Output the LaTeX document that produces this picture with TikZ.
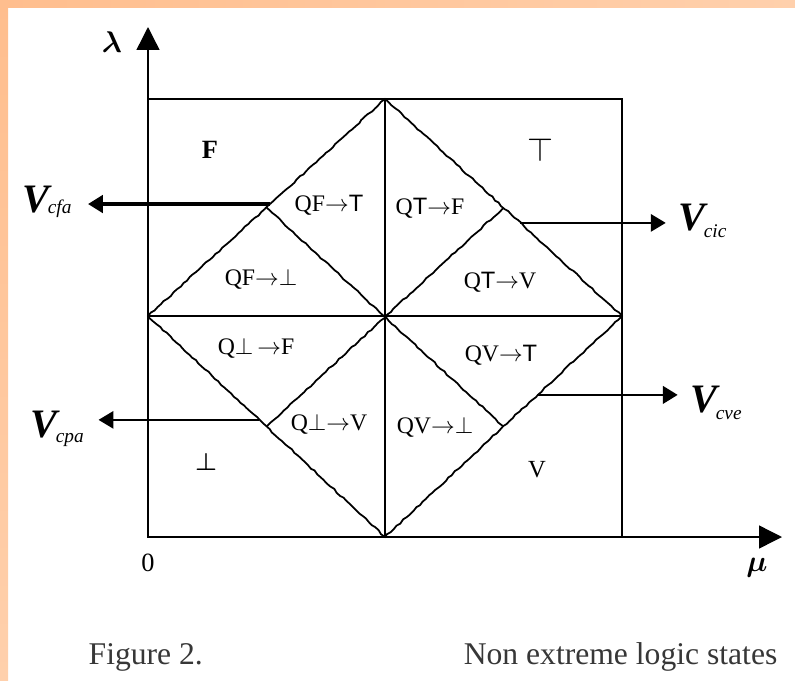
\RequirePackage{fix-cm}
\documentclass[tikz,border=0pt]{standalone}
\usepackage{fontspec}
\usepackage{amsmath}
\usepackage{tikz}
\setmainfont{Liberation Serif}
\setsansfont{Liberation Sans}
\usetikzlibrary{arrows.meta,calc,decorations.pathmorphing}

\definecolor{peach}{RGB}{255,190,142}
\definecolor{peachmid}{RGB}{255,232,216}
\definecolor{peachend}{RGB}{255,208,172}
\definecolor{captiongray}{RGB}{55,55,55}

\newcommand{\Vlab}[2]{{\fontsize{23}{23}\selectfont\bfseries\itshape V}\kern-1pt\raisebox{#2}{\fontsize{11}{11}\selectfont\itshape #1}}

\begin{document}
\begin{tikzpicture}[
    x=0.02cm,
    y=-0.02cm,
    line width=0.8pt,
    >={Triangle[length=8.5pt,width=10pt]},
    axisline/.style={-{Triangle[length=13pt,width=13pt]}},
    jagged/.style={line width=1pt, decorate, decoration={random steps, segment length=2.5pt, amplitude=0.4pt}},
    region/.style={font=\fontsize{13.5}{13.5}\selectfont, inner sep=0pt},
    vlabel/.style={anchor=base west, inner sep=0pt},
    caption/.style={font=\fontsize{18}{18}\selectfont, text=captiongray, inner sep=0pt}
]
    \pgfmathsetseed{7}
    \useasboundingbox (0,0) rectangle (795,680);

    % Frame - peach strips top and left
    \shade[left color=peach, middle color=peachmid, right color=peachend] (0,0) rectangle (795,7);
    \shade[top color=peach, middle color=peachmid, bottom color=peachend] (0,0) rectangle (8,680);

    % Diamond corners and axes
    \coordinate (dtop) at (385,99);
    \coordinate (dright) at (622,316);
    \coordinate (dbottom) at (385,537);
    \coordinate (dleft) at (148,316);
    \coordinate (centre) at (385,316);
    \coordinate (origin) at (148,537);
    \coordinate (lamtip) at (148,27);
    \coordinate (mutip) at (782,537);

    \draw (dleft |- dtop) rectangle (dright |- dbottom);
    \draw[axisline] (origin) -- (lamtip);
    \draw[axisline] (origin) -- (mutip);
    \draw (dtop) -- (dbottom);
    \draw (dleft) -- (dright);

    % Jagged diamond and inner diagonals
    \draw[jagged] (dtop) -- (dright) -- (dbottom) -- (dleft) -- cycle;
    \draw[jagged] ($(dleft)!0.5!(dtop)$) -- ($(dright)!0.5!(dbottom)$);
    \draw[jagged] ($(dtop)!0.5!(dright)$) -- ($(dbottom)!0.5!(dleft)$);

    % Axis labels
    \node[font=\fontsize{17}{17}\selectfont] (lam) at (112,42) {$\boldsymbol{\lambda}$};
    \node[font=\fontsize{17}{17}\selectfont] (mu) at (757,568) {$\boldsymbol{\mu}$};
    \node[font=\fontsize{15}{15}\selectfont] (zero) at (148,563) {0};

    % Extreme states
    \node[region, font=\fontsize{15}{15}\selectfont\bfseries] (F) at (210,150) {F};
    \node[region, font=\fontsize{19}{19}\selectfont] (Tp) at (540,150) {$\top$};
    \node[region, font=\fontsize{14}{14}\selectfont] (Bt) at (206,462) {$\boldsymbol{\bot}$};
    \node[region, font=\fontsize{14}{14}\selectfont] (Vs) at (537,470) {V};

    % Non extreme states
    \node[region] (qft) at (329,205) {QF${\rightarrow}$\textsf{T}};
    \node[region] (qtf) at (430,208) {Q\textsf{T}${\rightarrow}$F};
    \node[region] (qfb) at (261,279) {QF${\rightarrow}{\bot}$};
    \node[region] (qtv) at (500,282) {Q\textsf{T}${\rightarrow}$V};
    \node[region] (qbf) at (256,348) {Q${\bot}\,{\rightarrow}$F};
    \node[region] (qvt) at (501,355) {QV${\rightarrow}$\textsf{T}};
    \node[region] (qbv) at (329,424) {Q${\bot}{\rightarrow}$V};
    \node[region] (qvb) at (435,427) {QV${\rightarrow}{\bot}$};

    % Control values
    \node[vlabel] (Vcfa) at (22,212) {\Vlab{cfa}{-1pt}};
    \node[vlabel] (Vcic) at (678,230) {\Vlab{cic}{-4.5pt}};
    \node[vlabel] (Vcpa) at (30,437) {\Vlab{cpa}{-3pt}};
    \node[vlabel] (Vcve) at (690,412) {\Vlab{cve}{-4.5pt}};

    \coordinate (cfa0) at ($(dleft)!0.516!(dtop)$);
    \coordinate (cic0) at ($(dtop)!0.571!(dright)$);
    \coordinate (cpa0) at ($(dleft)!0.47!(dbottom)$);
    \coordinate (cve0) at ($(dright)!0.357!(dbottom)$);

    \draw[->, line width=1.8pt] (cfa0) -- ([xshift=9pt]Vcfa.east |- cfa0);
    \draw[->] (cic0) -- ([xshift=-7pt]Vcic.west |- cic0);
    \draw[->] (cpa0) -- ([xshift=8pt]Vcpa.east |- cpa0);
    \draw[->, line width=1.5pt] (cve0) -- ([xshift=-7pt]Vcve.west |- cve0);

    % Caption
    \node[caption, anchor=base west] (fig) at (88,664) {Figure 2.};
    \node[caption, anchor=base east] (title) at (778,664) {Non extreme logic states};
\end{tikzpicture}
\end{document}
